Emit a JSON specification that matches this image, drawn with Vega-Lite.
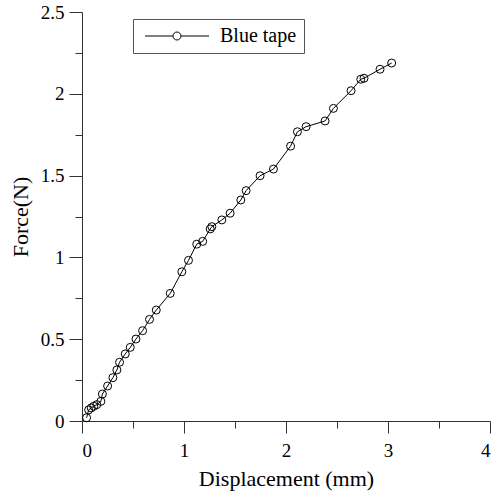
{
  "$schema": "https://vega.github.io/schema/vega-lite/v6.json",
  "autosize": {"type": "none"},
  "padding": {"left": 82, "top": 12, "right": 3, "bottom": 73},
  "width": 408,
  "height": 409,
  "background": "white",
  "config": {
    "view": {"stroke": null},
    "font": "Liberation Serif",
    "axis": {
      "labelFont": "Liberation Serif",
      "titleFont": "Liberation Serif",
      "labelColor": "black",
      "titleColor": "black",
      "domainColor": "#333",
      "tickColor": "#333",
      "grid": false,
      "titleFontWeight": "normal",
      "labelFontSize": 19,
      "titleFontSize": 22
    }
  },
  "data": {
    "values": [
      {"series": "Blue tape", "x": 0.045, "y": 0.02},
      {"series": "Blue tape", "x": 0.065, "y": 0.068},
      {"series": "Blue tape", "x": 0.09, "y": 0.08},
      {"series": "Blue tape", "x": 0.115, "y": 0.09},
      {"series": "Blue tape", "x": 0.145, "y": 0.1},
      {"series": "Blue tape", "x": 0.185, "y": 0.12},
      {"series": "Blue tape", "x": 0.2, "y": 0.165},
      {"series": "Blue tape", "x": 0.251, "y": 0.214},
      {"series": "Blue tape", "x": 0.303, "y": 0.265},
      {"series": "Blue tape", "x": 0.342, "y": 0.312},
      {"series": "Blue tape", "x": 0.368, "y": 0.359},
      {"series": "Blue tape", "x": 0.424, "y": 0.41},
      {"series": "Blue tape", "x": 0.473, "y": 0.45},
      {"series": "Blue tape", "x": 0.529, "y": 0.501},
      {"series": "Blue tape", "x": 0.594, "y": 0.552},
      {"series": "Blue tape", "x": 0.662, "y": 0.621},
      {"series": "Blue tape", "x": 0.728, "y": 0.678},
      {"series": "Blue tape", "x": 0.865, "y": 0.78},
      {"series": "Blue tape", "x": 0.979, "y": 0.912},
      {"series": "Blue tape", "x": 1.044, "y": 0.982},
      {"series": "Blue tape", "x": 1.125, "y": 1.081},
      {"series": "Blue tape", "x": 1.183, "y": 1.098},
      {"series": "Blue tape", "x": 1.257, "y": 1.174},
      {"series": "Blue tape", "x": 1.273, "y": 1.188},
      {"series": "Blue tape", "x": 1.371, "y": 1.229},
      {"series": "Blue tape", "x": 1.452, "y": 1.27},
      {"series": "Blue tape", "x": 1.557, "y": 1.351},
      {"series": "Blue tape", "x": 1.609, "y": 1.408},
      {"series": "Blue tape", "x": 1.746, "y": 1.499},
      {"series": "Blue tape", "x": 1.877, "y": 1.54},
      {"series": "Blue tape", "x": 2.045, "y": 1.68},
      {"series": "Blue tape", "x": 2.112, "y": 1.768},
      {"series": "Blue tape", "x": 2.197, "y": 1.799},
      {"series": "Blue tape", "x": 2.383, "y": 1.834},
      {"series": "Blue tape", "x": 2.465, "y": 1.911},
      {"series": "Blue tape", "x": 2.638, "y": 2.019},
      {"series": "Blue tape", "x": 2.733, "y": 2.089},
      {"series": "Blue tape", "x": 2.765, "y": 2.095},
      {"series": "Blue tape", "x": 2.922, "y": 2.15},
      {"series": "Blue tape", "x": 3.036, "y": 2.188}
    ]
  },
  "encoding": {
    "x": {
      "field": "x",
      "type": "quantitative",
      "scale": {"domain": [0, 4], "nice": false, "zero": false},
      "axis": {
        "title": "Displacement (mm)",
        "values": [0, 0.5, 1, 1.5, 2, 2.5, 3, 3.5, 4],
        "labelExpr": "datum.value % 1 == 0 ? format(datum.value, '') : ''",
        "labelFont": "Liberation Serif",
        "tickSize": {"condition": {"test": "datum.value % 1 == 0", "value": 12}, "value": 7},
        "labelPadding": 8,
        "titlePadding": 8,
        "encode": {"labels": {"update": {"font": {"value": "Liberation Serif"}}}}
      }
    },
    "y": {
      "field": "y",
      "type": "quantitative",
      "scale": {"domain": [0, 2.5], "nice": false, "zero": false},
      "axis": {
        "title": "Force(N)",
        "values": [0, 0.25, 0.5, 0.75, 1, 1.25, 1.5, 1.75, 2, 2.25, 2.5],
        "labelExpr": "datum.value % 0.5 == 0 ? format(datum.value, '') : ''",
        "labelFont": "Liberation Serif",
        "tickSize": {"condition": {"test": "datum.value % 0.5 == 0", "value": 13}, "value": 7},
        "labelPadding": 5,
        "titlePadding": 8,
        "encode": {"labels": {"update": {"font": {"value": "Liberation Serif"}}}}
      }
    }
  },
  "layer": [
    {
      "mark": {"type": "line", "strokeWidth": 1},
      "encoding": {
        "color": {
          "field": "series",
          "type": "nominal",
          "scale": {"range": ["black"]},
          "legend": {
            "title": null,
            "orient": "none",
            "legendX": 51,
            "legendY": 7,
            "strokeColor": "#555",
            "padding": 7,
            "symbolOffset": 27,
            "symbolType": "M-6.4,0H-0.8M0.8,0H6.4M0.8,0A0.8,0.8,0,1,1,-0.8,0A0.8,0.8,0,1,1,0.8,0",
            "symbolSize": 100,
            "symbolStrokeWidth": 1,
            "symbolStrokeColor": "black",
            "symbolFillColor": "transparent",
            "labelFont": "Liberation Serif",
            "labelFontSize": 20,
            "labelColor": "black",
            "labelOffset": 33
          }
        }
      }
    },
    {
      "mark": {"type": "point", "shape": "circle", "filled": false, "size": 64, "strokeWidth": 1, "color": "black", "opacity": 1}
    }
  ]
}
